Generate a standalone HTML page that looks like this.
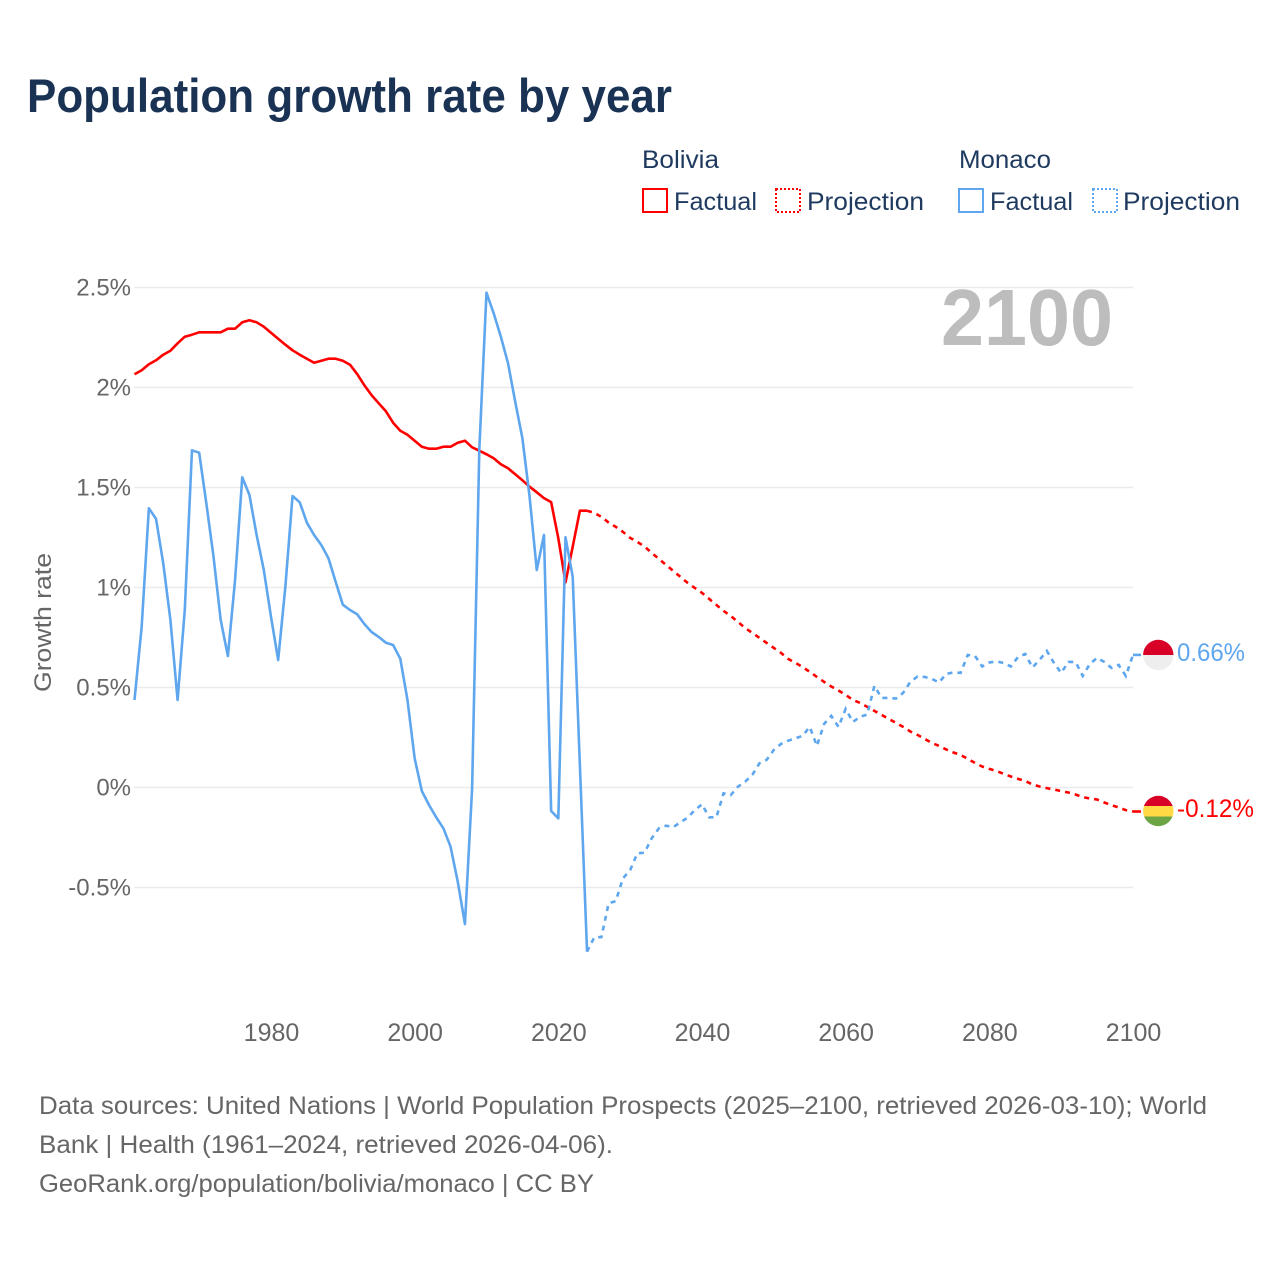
<!DOCTYPE html>
<html lang="en">
<head>
<meta charset="utf-8">
<title>Population growth rate by year</title>
<style>
  html, body { margin: 0; padding: 0; background: #fff; }
  svg { display: block; font-family: "Liberation Sans", sans-serif; }
</style>
</head>
<body>
<svg id="chart" width="1280" height="1280" viewBox="0 0 1280 1280" xmlns="http://www.w3.org/2000/svg">
  <defs>
    <clipPath id="clip-top"><circle cx="1158.3" cy="655" r="15.2"/></clipPath>
    <clipPath id="clip-bottom"><circle cx="1158.3" cy="811" r="15.2"/></clipPath>
  </defs>

  <text x="27" y="112" font-size="47" font-weight="700" fill="#1a3355" textLength="645" lengthAdjust="spacingAndGlyphs">Population growth rate by year</text>

  <g>
    <text x="642" y="168" font-size="25" fill="#1f3a5f" textLength="77" lengthAdjust="spacingAndGlyphs">Bolivia</text>
    <text x="959" y="168" font-size="25" fill="#1f3a5f" textLength="92" lengthAdjust="spacingAndGlyphs">Monaco</text>

    <rect x="643" y="189" width="24" height="23" fill="none" stroke="#ff0000" stroke-width="2"/>
    <text x="674" y="210" font-size="25" fill="#1f3a5f" textLength="83" lengthAdjust="spacingAndGlyphs">Factual</text>

    <rect x="776" y="189" width="24" height="23" fill="none" stroke="#ff0000" stroke-width="2" stroke-dasharray="2 2"/>
    <text x="807" y="210" font-size="25" fill="#1f3a5f" textLength="117" lengthAdjust="spacingAndGlyphs">Projection</text>

    <rect x="959" y="189" width="24" height="23" fill="none" stroke="#5ea6ee" stroke-width="2"/>
    <text x="990" y="210" font-size="25" fill="#1f3a5f" textLength="83" lengthAdjust="spacingAndGlyphs">Factual</text>

    <rect x="1093" y="189" width="24" height="23" fill="none" stroke="#5ea6ee" stroke-width="2" stroke-dasharray="2 2"/>
    <text x="1123" y="210" font-size="25" fill="#1f3a5f" textLength="117" lengthAdjust="spacingAndGlyphs">Projection</text>
  </g>

  <g id="grid"></g>
  <g id="y-labels"></g>
  <g id="x-labels"></g>

  <text transform="translate(51 692) rotate(-90)" font-size="24" fill="#666666" textLength="139" lengthAdjust="spacingAndGlyphs">Growth rate</text>

  <text x="941" y="345" font-size="80" font-weight="700" fill="#bdbdbd" textLength="172" lengthAdjust="spacingAndGlyphs">2100</text>

  <g id="series"></g>

  <g clip-path="url(#clip-top)">
    <rect x="1143" y="639" width="31" height="16" fill="#d80027"/>
    <rect x="1143" y="655" width="31" height="16" fill="#eeeeee"/>
  </g>
  <g clip-path="url(#clip-bottom)">
    <rect x="1143" y="795" width="31" height="11" fill="#d80027"/>
    <rect x="1143" y="806" width="31" height="10.5" fill="#ffda44"/>
    <rect x="1143" y="816.5" width="31" height="11" fill="#6da544"/>
  </g>

  <text x="1177" y="661" font-size="25" fill="#5ea6ee" textLength="68" lengthAdjust="spacingAndGlyphs">0.66%</text>
  <text x="1177" y="817" font-size="25" fill="#ff0000" textLength="77" lengthAdjust="spacingAndGlyphs">-0.12%</text>

  <g font-size="25" fill="#666666">
    <text x="39" y="1114" textLength="1168" lengthAdjust="spacingAndGlyphs">Data sources: United Nations | World Population Prospects (2025–2100, retrieved 2026-03-10); World</text>
    <text x="39" y="1153" textLength="574" lengthAdjust="spacingAndGlyphs">Bank | Health (1961–2024, retrieved 2026-04-06).</text>
    <text x="39" y="1192" textLength="555" lengthAdjust="spacingAndGlyphs">GeoRank.org/population/bolivia/monaco | CC BY</text>
  </g>
</svg>

<script>
const factualStartYear = 1961;
const projectionStartYear = 2025;
const yTicks = [2.5, 2, 1.5, 1, 0.5, 0, -0.5];
const xTicks = [1980, 2000, 2020, 2040, 2060, 2080, 2100];

const boliviaFactual = [
  2.066, 2.086, 2.116, 2.136, 2.164, 2.184, 2.221, 2.254, 2.264, 2.276,
  2.276, 2.276, 2.276, 2.294, 2.294, 2.326, 2.336, 2.326, 2.304, 2.274,
  2.244, 2.214, 2.186, 2.164, 2.144, 2.124, 2.134, 2.144, 2.144, 2.134,
  2.114, 2.067, 2.011, 1.962, 1.921, 1.881, 1.824, 1.784, 1.764, 1.734,
  1.704, 1.694, 1.694, 1.704, 1.704, 1.724, 1.734, 1.701, 1.684, 1.666,
  1.646, 1.616, 1.596, 1.566, 1.536, 1.504, 1.476, 1.447, 1.427, 1.246,
  1.026, 1.204, 1.384, 1.384
];

const boliviaProjection = [
  1.373, 1.353, 1.325, 1.303, 1.278, 1.248, 1.228, 1.205, 1.173, 1.143,
  1.113, 1.083, 1.053, 1.023, 0.998, 0.973, 0.943, 0.913, 0.883, 0.858,
  0.828, 0.798, 0.773, 0.748, 0.723, 0.698, 0.673, 0.643, 0.623, 0.603,
  0.578, 0.553, 0.528, 0.505, 0.485, 0.463, 0.438, 0.423, 0.403, 0.383,
  0.363, 0.343, 0.323, 0.303, 0.28, 0.263, 0.243, 0.223, 0.208, 0.19,
  0.175, 0.163, 0.143, 0.123, 0.105, 0.093, 0.083, 0.068, 0.055, 0.043,
  0.033, 0.015, 0.005, -0.003, -0.01, -0.018, -0.025, -0.035, -0.048, -0.055,
  -0.06, -0.075, -0.088, -0.1, -0.113, -0.12
];

const monacoFactual = [
  0.4375, 0.804, 1.396, 1.343, 1.121, 0.8375, 0.4375, 0.8875, 1.686, 1.674,
  1.421, 1.154, 0.8375, 0.6575, 1.0375, 1.551, 1.4625, 1.2625, 1.0875, 0.854,
  0.6375, 1.004, 1.4575, 1.426, 1.324, 1.2625, 1.2125, 1.146, 1.029, 0.914,
  0.8875, 0.866, 0.8175, 0.7775, 0.7525, 0.724, 0.7125, 0.644, 0.4375, 0.146,
  -0.0175, -0.0875, -0.149, -0.204, -0.296, -0.471, -0.6825, -0.004, 1.69, 2.474,
  2.371, 2.254, 2.121, 1.929, 1.746, 1.454, 1.0875, 1.2625, -0.1175, -0.154,
  1.251, 1.054, 0.1125, -0.821
];

const monacoProjection = [
  -0.749, -0.748, -0.579, -0.568, -0.454, -0.413, -0.329, -0.326, -0.254, -0.204,
  -0.191, -0.198, -0.174, -0.151, -0.113, -0.084, -0.149, -0.149, -0.029, -0.038,
  0.004, 0.029, 0.063, 0.121, 0.138, 0.188, 0.218, 0.234, 0.246, 0.258,
  0.303, 0.208, 0.318, 0.358, 0.303, 0.393, 0.328, 0.353, 0.365, 0.508,
  0.448, 0.448, 0.445, 0.473, 0.528, 0.555, 0.553, 0.543, 0.525, 0.568,
  0.575, 0.573, 0.663, 0.658, 0.605, 0.625, 0.63, 0.623, 0.605, 0.653,
  0.668, 0.6, 0.638, 0.683, 0.623, 0.573, 0.628, 0.628, 0.558, 0.618,
  0.648, 0.628, 0.598, 0.613, 0.558, 0.663
];

const SVG_NS = 'http://www.w3.org/2000/svg';
const xScale = function (year) { return 134.5 + (year - 1961) * (1133 - 134.5) / 139; };
const yScale = function (value) { return 787.5 - value * 200; };

const gridGroup = document.getElementById('grid');
const yLabelGroup = document.getElementById('y-labels');
const xLabelGroup = document.getElementById('x-labels');
const seriesGroup = document.getElementById('series');

yTicks.forEach(function (tick) {
  const line = document.createElementNS(SVG_NS, 'line');
  
  
  line.setAttribute('x1', 134);
  line.setAttribute('x2', 1133);
  line.setAttribute('y1', yScale(tick));
  line.setAttribute('y2', yScale(tick));
  line.setAttribute('stroke', '#ebebeb');
  line.setAttribute('stroke-width', 1.5);
  gridGroup.appendChild(line);

  const label = document.createElementNS(SVG_NS, 'text');
  
  
  label.setAttribute('x', 131);
  label.setAttribute('y', yScale(tick) + 8);
  label.setAttribute('text-anchor', 'end');
  label.setAttribute('font-size', 24);
  label.setAttribute('fill', '#666666');
  label.textContent = tick + '%';
  yLabelGroup.appendChild(label);
});

xTicks.forEach(function (tick) {
  const label = document.createElementNS(SVG_NS, 'text');
  
  
  label.setAttribute('x', xScale(tick) + 0.5);
  label.setAttribute('y', 1041);
  label.setAttribute('text-anchor', 'middle');
  label.setAttribute('font-size', 25);
  label.setAttribute('fill', '#666666');
  label.textContent = tick;
  xLabelGroup.appendChild(label);
});

function pathFrom(points) {
  return points.map(function (p, i) {
    return (i ? 'L' : 'M') + xScale(p[0]).toFixed(2) + ' ' + yScale(p[1]).toFixed(2);
  }).join(' ');
}

function toPoints(values, startYear) {
  return values.map(function (v, i) { return [startYear + i, v]; });
}

function drawSeries(name, color, factual, projection) {
  const factualPts = toPoints(factual, factualStartYear);
  const projectionPts = [factualPts[factualPts.length - 1]].concat(toPoints(projection, projectionStartYear));

  const solid = document.createElementNS(SVG_NS, 'path');
  
  
  solid.setAttribute('d', pathFrom(factualPts));
  solid.setAttribute('fill', 'none');
  solid.setAttribute('stroke', color);
  solid.setAttribute('stroke-width', 2.6);
  solid.setAttribute('stroke-linejoin', 'round');
  seriesGroup.appendChild(solid);

  const dashed = document.createElementNS(SVG_NS, 'path');
  
  
  dashed.setAttribute('d', pathFrom(projectionPts));
  dashed.setAttribute('fill', 'none');
  dashed.setAttribute('stroke', color);
  dashed.setAttribute('stroke-width', 2.6);
  dashed.setAttribute('stroke-dasharray', '5 5');
  seriesGroup.appendChild(dashed);

  const last = projectionPts[projectionPts.length - 1];
  const connector = document.createElementNS(SVG_NS, 'line');
  
  
  connector.setAttribute('x1', xScale(last[0]));
  connector.setAttribute('x2', xScale(last[0]) + 8);
  connector.setAttribute('y1', yScale(last[1]));
  connector.setAttribute('y2', yScale(last[1]));
  connector.setAttribute('stroke', color);
  connector.setAttribute('stroke-width', 2.6);
  seriesGroup.appendChild(connector);
}

drawSeries('bolivia', '#ff0000', boliviaFactual, boliviaProjection);
drawSeries('monaco', '#5ea6ee', monacoFactual, monacoProjection);
</script>
</body>
</html>
